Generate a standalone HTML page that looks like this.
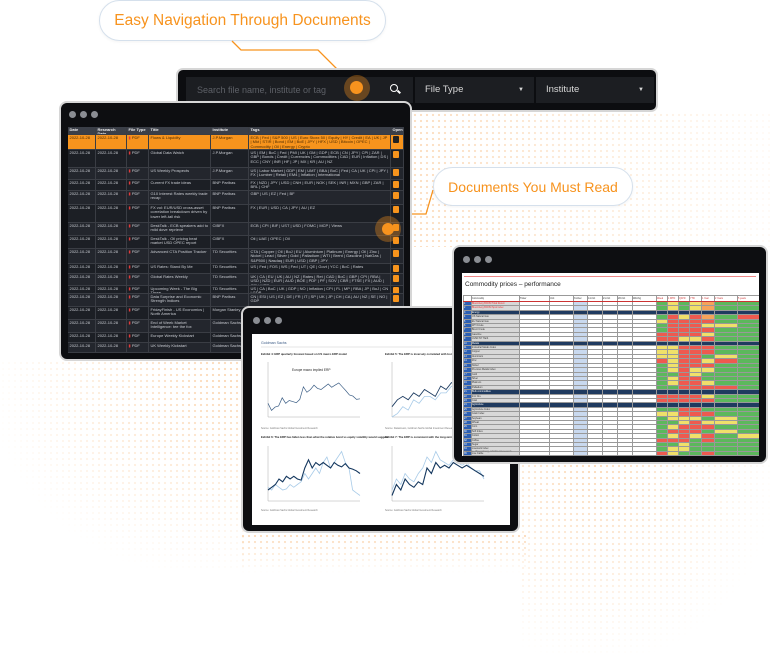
<!DOCTYPE html>
<html><head><meta charset="utf-8">
<style>
*{margin:0;padding:0;box-sizing:border-box}
body{width:770px;height:666px;background:#fff;position:relative;overflow:hidden;font-family:"Liberation Sans",sans-serif}
.abs{position:absolute}
.dots{position:absolute;background-image:radial-gradient(circle,#f6a85a 0.9px,transparent 1.3px);background-size:6px 6px;opacity:.45}
.pill{position:absolute;background:#fff;border:1px solid #d5e0ec;border-radius:21px;color:#f7931e;font-size:15.5px;display:flex;align-items:center;justify-content:center;box-shadow:0 1px 3px rgba(0,0,0,.05)}
.win{position:absolute;background:#0d0e11;border:2px solid #d6d6d6;border-radius:8px;overflow:hidden}
.wd{position:absolute;top:8px;width:7px;height:7px;border-radius:50%;background:#8a8d93}
.lt{position:absolute;left:7px;top:24px;width:336px;font-size:4px;color:#c9ccd2}
.r{display:flex;overflow:hidden;border-bottom:0.5px solid #3a3d44}
.r>div{border-right:0.5px solid #3a3d44;padding:1.2px 1.5px 0;overflow:hidden;line-height:4.3px}
.r:nth-child(odd){background:#1c1f25}.r:nth-child(even){background:#23262d}
.r.h{background:#3b3f48;color:#eee;font-weight:bold}
.r.hi{background:#f7941d;color:#4a2a00}
.r>div:nth-child(1){width:28px}.r>div:nth-child(2){width:31px}.r>div:nth-child(3){width:22px}.r>div:nth-child(4){width:62px}.r>div:nth-child(5){width:38px}.r>div:nth-child(6){width:142px}.r>div:nth-child(7){width:13px}
.pdf{color:#e23a3a}
.open{display:inline-block;width:6px;height:7px;background:#f7941d;border-radius:1px}
.ct td{border:0.3px solid #999;height:3.95px;padding:0;font-size:2.4px;line-height:3.4px;overflow:hidden;white-space:nowrap}
.ct tr{height:3.95px}
</style></head>
<body>
<div class="dots" style="left:412px;top:112px;width:358px;height:135px;-webkit-mask-image:linear-gradient(90deg,#000,rgba(0,0,0,.15));opacity:.4"></div>
<div class="dots" style="left:0;top:360px;width:245px;height:210px;-webkit-mask-image:radial-gradient(ellipse at 90% 10%,#000,transparent 75%)"></div>
<div class="dots" style="left:520px;top:463px;width:250px;height:190px;-webkit-mask-image:radial-gradient(ellipse at 30% 0%,#000,transparent 75%)"></div>
<div class="dots" style="left:240px;top:533px;width:290px;height:40px;-webkit-mask-image:linear-gradient(#000,transparent)"></div>

<div class="pill" style="left:99px;top:0;width:287px;height:41px">Easy Navigation Through Documents</div>
<svg class="abs" style="left:0;top:0" width="770" height="240">
<polyline points="232,41 241,50 318,50 356,88" fill="none" stroke="#f7931e" stroke-width="1.3"/>
<polyline points="386,228 405,214 426,214 433,190" fill="none" stroke="#f7931e" stroke-width="1.3"/>
</svg>

<div class="abs" style="left:176px;top:68px;width:482px;height:44px;background:#0c0d10;border:2px solid #d6d6d6;border-radius:7px">
 <div class="abs" style="left:8px;top:7px;width:227px;height:26px;background:#1c1e22;color:#5d6067;font-size:9px;line-height:26px;padding-left:11px">Search file name, institute or tag</div>
 <div class="abs" style="left:212px;top:14px;width:8px;height:8px;border:1.6px solid #fff;border-radius:50%"></div>
 <div class="abs" style="left:219px;top:21px;width:4px;height:1.6px;background:#fff;transform:rotate(45deg)"></div>
 <div class="abs" style="left:237px;top:7px;width:119px;height:26px;background:#1c1e22;color:#d8d8d8;font-size:9.5px;line-height:26px;padding-left:10px">File Type<span style="position:absolute;right:10px;top:0;font-size:6px">▼</span></div>
 <div class="abs" style="left:358px;top:7px;width:118px;height:26px;background:#1c1e22;color:#d8d8d8;font-size:9.5px;line-height:26px;padding-left:10px">Institute<span style="position:absolute;right:10px;top:0;font-size:6px">▼</span></div>
</div>

<div class="win" style="left:59px;top:101px;width:353px;height:260px">
 <div class="wd" style="left:8px"></div><div class="wd" style="left:19px"></div><div class="wd" style="left:30px"></div>
 <div class="lt">
 <div class="r h" style="height:8px"><div>Date</div><div>Research Date</div><div>File Type</div><div>Title</div><div>Institute</div><div>Tags</div><div>Open</div></div>
 <div class="r hi" style="height:15px"><div>2022-10-28</div><div>2022-10-28</div><div><span class="pdf">▮</span> PDF</div><div>Flows &amp; Liquidity</div><div>J.P.Morgan</div><div>ECB | Fed | S&amp;P 500 | US | Euro Stoxx 50 | Equity | HY | Credit | EA | UK | JP | Mkt | STIR | Bond | EM | BoE | JPY | HFX | USD | Bitcoin | OPEC | Commodity | Oil | Energy | Crypto</div><div><span class="open" style="background:#222"></span></div></div>
 <div class="r" style="height:18px"><div>2022-10-28</div><div>2022-10-28</div><div><span class="pdf">▮</span> PDF</div><div>Global Data Watch</div><div>J.P.Morgan</div><div>US | EM | BoC | Fed | PMI | UK | GM | GDP | ECB | CN | JPY | CPI | ZAR | GBP | Bonds | Credit | Currencies | Commodities | CAD | EUR | Inflation | DS | ECC | CNY | INR | HF | JP | MX | KR | AU | NZ</div><div><span class="open"></span></div></div>
 <div class="r" style="height:12px"><div>2022-10-28</div><div>2022-10-28</div><div><span class="pdf">▮</span> PDF</div><div>US Weekly Prospects</div><div>J.P.Morgan</div><div>US | Labor Market | GDP | EM | UMT | BBA | BoC | Fed | CA | UK | CPI | JPY | FX | Lumber | Retail | EM4 | Inflation | International</div><div><span class="open"></span></div></div>
 <div class="r" style="height:11px"><div>2022-10-28</div><div>2022-10-28</div><div><span class="pdf">▮</span> PDF</div><div>Current FX trade ideas</div><div>BNP Paribas</div><div>FX | NZD | JPY | USD | CNH | EUR | NOK | SEK | INR | MXN | GBP | ZAR | BRL | CHF</div><div><span class="open"></span></div></div>
 <div class="r" style="height:14px"><div>2022-10-28</div><div>2022-10-28</div><div><span class="pdf">▮</span> PDF</div><div>G10 Interest Rates weekly trade recap</div><div>BNP Paribas</div><div>GBP | US | EZ | Fed | BF</div><div><span class="open"></span></div></div>
 <div class="r" style="height:18px"><div>2022-10-28</div><div>2022-10-28</div><div><span class="pdf">▮</span> PDF</div><div>FX vol: EUR/USD cross-asset correlation breakdown driven by lower left-tail risk</div><div>BNP Paribas</div><div>FX | EUR | USD | CA | JPY | AU | EZ</div><div><span class="open"></span></div></div>
 <div class="r" style="height:13px"><div>2022-10-28</div><div>2022-10-28</div><div><span class="pdf">▮</span> PDF</div><div>DeskTalk - ECB speakers add to mild dove reprieve</div><div>CIBFX</div><div>ECB | CPI | BIF | UST | USD | FOMC | MCP | Views</div><div><span class="open"></span></div></div>
 <div class="r" style="height:13px"><div>2022-10-28</div><div>2022-10-28</div><div><span class="pdf">▮</span> PDF</div><div>DeskTalk - Oil pricing beat market USD OPEC report</div><div>CIBFX</div><div>Oil | UAE | OPEC | Oil</div><div><span class="open"></span></div></div>
 <div class="r" style="height:15px"><div>2022-10-28</div><div>2022-10-28</div><div><span class="pdf">▮</span> PDF</div><div>Advanced CTA Position Tracker</div><div>TD Securities</div><div>CTA | Copper | Oil | BoJ | EU | Aluminium | Platinum | Energy | Oil | Zinc | Nickel | Lead | Silver | Gold | Palladium | WTI | Brent | Gasoline | NatGas | S&amp;P500 | Nasdaq | EUR | USD | GBP | JPY</div><div><span class="open"></span></div></div>
 <div class="r" style="height:10px"><div>2022-10-28</div><div>2022-10-28</div><div><span class="pdf">▮</span> PDF</div><div>US Rates: Stand By Me</div><div>TD Securities</div><div>US | Fed | FOS | WS | Fed | UT | QE | Govt | YCC | BoC | Rates</div><div><span class="open"></span></div></div>
 <div class="r" style="height:12px"><div>2022-10-28</div><div>2022-10-28</div><div><span class="pdf">▮</span> PDF</div><div>Global Rates Weekly</div><div>TD Securities</div><div>UK | CA | EU | UK | AU | NZ | Rates | Ret | CAD | BoC | GBP | CPI | RBA | USD | NZD | EUR | AUD | BOE | PDF | PF | SOV | CBR | FTSE | FX | AUD | CPI | MPR</div><div><span class="open"></span></div></div>
 <div class="r" style="height:8px"><div>2022-10-28</div><div>2022-10-28</div><div><span class="pdf">▮</span> PDF</div><div>Upcoming Week - The Big Three</div><div>TD Securities</div><div>US | CA | BoC | UK | GDP | NO | Inflation | CPI | FL | MP | RBA | JP | BoJ | CN | GDP</div><div><span class="open"></span></div></div>
 <div class="r" style="height:13px"><div>2022-10-28</div><div>2022-10-28</div><div><span class="pdf">▮</span> PDF</div><div>Data Surprise and Economic Strength Indices</div><div>BNP Paribas</div><div>CN | ESI | US | EZ | DE | FR | IT | SP | UK | JP | CH | CA | AU | NZ | SE | NO | GDP</div><div><span class="open"></span></div></div>
 <div class="r" style="height:13px"><div>2022-10-28</div><div>2022-10-28</div><div><span class="pdf">▮</span> PDF</div><div>FridayFinish - US Economics | North America</div><div>Morgan Stanley</div><div></div><div></div></div>
 <div class="r" style="height:13px"><div>2022-10-28</div><div>2022-10-28</div><div><span class="pdf">▮</span> PDF</div><div>End of Week Market Intelligence: tee the fox</div><div>Goldman Sachs</div><div></div><div></div></div>
 <div class="r" style="height:10px"><div>2022-10-28</div><div>2022-10-28</div><div><span class="pdf">▮</span> PDF</div><div>Europe Weekly Kickstart</div><div>Goldman Sachs</div><div></div><div></div></div>
 <div class="r" style="height:10px"><div>2022-10-28</div><div>2022-10-28</div><div><span class="pdf">▮</span> PDF</div><div>UK Weekly Kickstart</div><div>Goldman Sachs</div><div></div><div></div></div>
 </div>
 <div class="abs" style="left:314px;top:113px;width:26px;height:26px;border-radius:50%;background:rgba(247,147,30,.35)"></div>
 <div class="abs" style="left:321px;top:120px;width:12px;height:12px;border-radius:50%;background:#f7931e"></div>
</div>
<div class="abs" style="left:344px;top:75px;width:26px;height:26px;border-radius:50%;background:rgba(247,147,30,.35)"></div>
<div class="abs" style="left:350px;top:81px;width:13px;height:13px;border-radius:50%;background:#f7931e"></div>

<div class="pill" style="left:433px;top:167px;width:200px;height:39px;font-size:14px">Documents You Must Read</div>

<div class="win" style="left:241px;top:306px;width:279px;height:227px">
 <div class="wd" style="left:10px;top:9px"></div><div class="wd" style="left:21px;top:9px"></div><div class="wd" style="left:32px;top:9px"></div>
 <div class="abs" style="left:9px;top:26px;width:258px;height:191px;background:#fff"></div>
 <svg class="abs" style="left:9px;top:26px" width="258" height="191" id="gs">
  <text x="9" y="10" font-size="3.6" fill="#3a5a85">Goldman Sachs</text>
  <line x1="9" y1="13" x2="250" y2="13" stroke="#ccc" stroke-width=".5"/>
  <text x="9" y="21" font-size="2.8" font-weight="bold" fill="#222">Exhibit 4: ERP quarterly forecast based on US macro ERP model</text>
  <text x="133" y="21" font-size="2.8" font-weight="bold" fill="#222">Exhibit 5: The ERP is inversely correlated with bond yields</text>
  <text x="9" y="104" font-size="2.8" font-weight="bold" fill="#222">Exhibit 6: The ERP has fallen less than what the relative bond vs equity volatility would suggest</text>
  <text x="133" y="104" font-size="2.8" font-weight="bold" fill="#222">Exhibit 7: The ERP is consistent with the long-term bands</text>
  <text x="9" y="95" font-size="2.4" fill="#777">Source: Goldman Sachs Global Investment Research</text>
  <text x="133" y="95" font-size="2.4" fill="#777">Source: Datastream, Goldman Sachs Global Investment Research</text>
  <text x="9" y="177" font-size="2.4" fill="#777">Source: Goldman Sachs Global Investment Research</text>
  <text x="133" y="177" font-size="2.4" fill="#777">Source: Goldman Sachs Global Investment Research</text>
  <text x="40" y="37" font-size="3.2" fill="#222">Europe macro implied ERP</text>
 </svg>
</div>

<div class="win" style="left:452px;top:245px;width:316px;height:219px">
 <div class="wd" style="left:9px;top:9px"></div><div class="wd" style="left:20px;top:9px"></div><div class="wd" style="left:31px;top:9px"></div>
 <div class="abs" style="left:8px;top:26px;width:297px;height:183px;background:#fff;overflow:hidden">
  <div class="abs" style="left:2px;top:3px;width:292px;height:0.6px;background:#e88"></div>
  <div class="abs" style="left:3px;top:8px;font-size:6.5px;color:#222">Commodity prices – performance</div>
  <div id="ct" class="abs" style="left:1px;top:22px;width:296px"></div>
  <div class="abs" style="left:3px;top:176px;font-size:2.8px;color:#777">Source: Bloomberg, MUFG Research</div>
 </div>
</div>

<script>
const c1Dark=[2.5,1.2,1.8,2.0,3.5,2.5,3.0,2.8,2.6,3.2,5.5,4.5,5.0,5.8,5.2,5.0,5.5,6.0,5.4,5.8,6.2,5.5,4.8,4.0,3.8,3.2,3.3];
const c2Dark=[1.5,2.5,3.0,2.5,3.5,3.0,4.0,3.5,3.0,4.5,4.0,5.0,4.5,6.0,5.5,7.0,6.5,7.5];
const c2Light=[0.0,0.5,1.5,1.0,2.5,2.0,3.0,3.0,2.5,3.5,3.5,4.5,4.0,5.5,5.0,6.0,6.5,7.0];
const c3Dark=[2.0,2.5,3.0,4.0,3.5,4.5,4.0,4.5,4.0,3.8,6.0,7.5,6.0,7.0,6.5,7.0,6.5,6.0,7.0,6.5,6.2,6.8,6.0,5.8,5.5,5.0];
const c3Light=[2.5,2.0,3.0,2.5,2.0,2.2,3.0,2.5,3.0,3.5,5.0,4.0,5.0,6.0,5.0,7.0,8.0,6.0,7.0,8.0,9.0,7.0,6.0,2.0,1.5,1.0];
const c4Dark=[1.0,3.0,2.0,4.0,3.0,2.5,3.5,3.0,6.0,5.0,7.0,6.0,6.5,6.0,7.0,6.5,6.0,6.5,6.0,5.5,5.0,4.5];
const c4Light=[2.0,4.0,3.0,5.0,4.0,3.5,5.0,6.0,8.0,7.0,9.0,7.5,7.0,6.5,7.5,7.0,6.5,7.0,6.0,5.5,5.5,4.0];
const svg=document.getElementById('gs');const NS='http://www.w3.org/2000/svg';
function chart(x0,y0,w,h,max,series,name){
  const ax=document.createElementNS(NS,'path');
  ax.setAttribute('d',`M${x0} ${y0}V${y0+h}H${x0+w}`);ax.setAttribute('stroke','#999');ax.setAttribute('stroke-width','.4');ax.setAttribute('fill','none');
  
  
  svg.appendChild(ax);
  series.forEach(([vals,col,sw])=>{
    const xs=v=>x0+v*w/(vals.length-1), ys=v=>y0+h-v/max*h;
    const p=document.createElementNS(NS,'polyline');
    p.setAttribute('points',vals.map((v,j)=>xs(j).toFixed(1)+','+ys(v).toFixed(1)).join(' '));
    p.setAttribute('fill','none');p.setAttribute('stroke',col);p.setAttribute('stroke-width',sw);
    
    
    svg.appendChild(p);
  });
}
chart(16,28,92,55,10,[[c1Dark,'#3d5f86',0.7]],'erp-forecast');
chart(140,28,92,55,8,[[c2Light,'#a8cbe8',0.8],[c2Dark,'#1e3d62',0.9]],'erp-bond');
chart(16,112,92,55,10,[[c3Light,'#a8cbe8',0.8],[c3Dark,'#14375e',1.1]],'erp-vol');
chart(140,112,92,55,10,[[c4Light,'#a8cbe8',0.8],[c4Dark,'#14375e',1.1]],'erp-bands');

const rowNames=["Bloomberg BCOM Total Return","Bloomberg BCOM Spot Index","Energy","US Natural Gas","EU Natural Gas","WTI Crude","Brent Crude","Gasoline","ULSD NY Harb","Metals","Industrial Metals Index","Copper","Aluminium","Zinc","Nickel","Precious Metals Index","Gold","Silver","Platinum","Palladium","Bulk commodities","Iron Ore","Coal","Agriculture","Agriculture Index","Grain Index","Soybean","Wheat","Corn","Soft Index","Cotton","Coffee","Sugar","Livestock Index","Live Cattle","Lean Hogs","USD Index"];
const heat=["gygyogg","gygyogg","rryorgg","gryrogr","yrrrrgg","grrryyg","grrrrgg","rrrrygg","rryyrgg","gyyrrgg","yyrrrgg","yyrrrgg","yyrrgyg","ryrryrg","gyrrrgg","gyryygg","ggryggg","gyrrggg","gyrrygg","ggrrrrg","wwwwwww","rrrrygg","rrrrrgg","ggrryrg","ggrrggg","yyrrrgg","gyyygyg","ggyryyg","gyrrrgg","grrrgyg","gyryrgy","rrrgrgg","ggygggg","gyygggg","ryggrgg","ggggrgy","ggggggg"];
const dark=[2,9,20,23];
const colW=[8,48,30,24,14,15,15,15,24,11,11,11,12,13,23,25];
const C={g:'#5cb85c',y:'#f0e06a',r:'#ee5a4f',o:'#f5a35a',w:'#fff'};
let h='<table class="ct" style="border-collapse:collapse;table-layout:fixed;width:296px"><colgroup>'+colW.map(w=>`<col style="width:${w}px">`).join('')+'</colgroup>';
h+='<tr style="height:6px">'+colW.map((w,i)=>`<td style="height:6px;border-bottom:.6px solid #c33;color:${i>8?'#c33':'#333'}">${['','Commodity','Ticker','Unit','31-Dec','14-Oct','21-Oct','28-Oct','Wk/chg','Week','1 MTD','QATD','YTD','1 Year','2 Years','5 years'][i]}</td>`).join('')+'</tr>';
rowNames.forEach((n,r)=>{
  const isD=dark.includes(r), red=(r<2||r==36);
  h+='<tr>';
  for(let c=0;c<16;c++){
    let bg='#fff',txt='',col=red?'#e33':'#333';
    if(c==0){bg='#2b5fb4';txt=r+1;col='#fff';}
    else if(isD){bg='#1f3a5f';col='#fff';if(c==1)txt=n;}
    else if(c==1){bg='#d8d8d8';txt=n;}
    else if(c==4){bg='#c9d9ef';}
    else if(c>=9){bg=C[heat[r][c-9]]||'#5cb85c';}
    h+=`<td style="background:${bg};color:${col}">${txt}</td>`;
  }
  h+='</tr>';
});
h+='</table>';
const ct=document.getElementById('ct');ct.innerHTML=h;


</script>
</body></html>
